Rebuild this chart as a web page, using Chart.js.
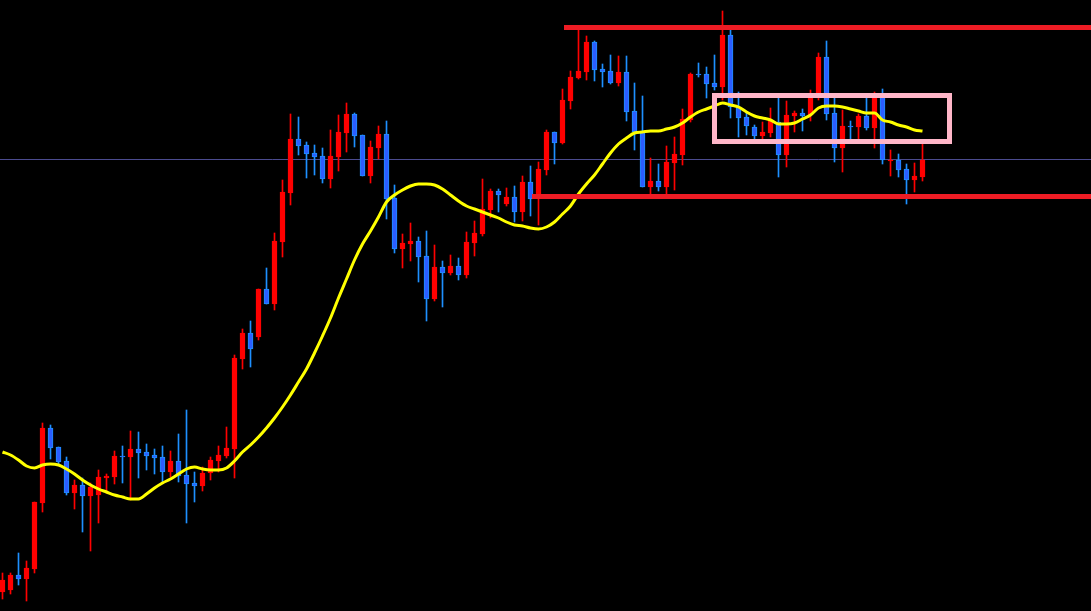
<!DOCTYPE html>
<html>
<head>
<meta charset="utf-8">
<script src="https://cdn.jsdelivr.net/npm/chart.js@4.4.1/dist/chart.umd.min.js"></script>
<style>
html,body{margin:0;padding:0;background:#000;overflow:hidden;}
canvas{display:block;}
</style>
</head>
<body>
<canvas id="c" width="1091" height="611"></canvas>
<script>
// Candle data (price units), one entry per bar
const opens  = [19,21,36,32,42,108,183,164,150,118,126,115,116,133,134,155,154,162,159,156,154,139,150,136,128,125,138,150,155,162,
252,278,274,322,307,369,418,472,466,458,455,432,454,478,497,476,435,463,477,413,362,367,370,355,312,344,338,345,336,368,
377,401,420,407,414,399,429,414,441,479,468,510,533,539,569,542,540,528,539,500,479,424,430,424,448,456,491,537,537,528,
524,576,504,494,484,475,478,489,456,495,498,496,513,554,498,463,485,484,495,483,514,450,451,442,431,434];
const highs  = [38,38,58,50,109,188,186,164,154,131,133,128,141,137,160,165,180,179,167,162,165,160,177,201,139,144,154,165,184,256,
282,290,322,343,378,431,497,494,469,466,463,481,496,508,498,476,470,485,490,426,377,388,374,380,366,350,356,353,379,390,
432,422,422,423,425,435,445,449,481,479,522,540,581,575,570,547,556,555,555,528,515,453,447,465,474,502,538,548,544,556,
600,581,519,499,486,489,503,513,510,500,502,521,558,570,513,501,490,497,514,519,522,461,457,447,448,467];
const lows   = [12,17,26,10,38,99,152,146,116,102,79,60,88,118,127,128,111,133,141,137,129,134,129,88,109,120,131,139,153,133,
242,244,271,307,301,354,406,456,433,436,428,423,440,459,464,435,428,452,392,358,343,350,329,290,310,304,336,331,333,355,
375,393,399,405,389,390,395,386,436,447,467,502,532,531,530,524,527,525,490,461,424,417,420,414,421,446,489,534,513,521,
511,493,474,476,472,472,474,434,444,479,480,490,511,491,449,439,472,472,481,463,447,435,434,407,419,430];
const closes = [31,36,32,43,109,183,163,149,118,126,115,124,134,135,155,154,162,158,155,153,139,150,135,127,125,138,151,156,163,253,
278,262,322,307,370,419,472,465,457,454,432,455,479,497,475,435,464,477,412,362,368,370,354,312,344,338,345,336,369,378,
402,420,416,414,399,429,412,442,479,468,511,534,540,569,541,539,528,539,499,479,424,430,424,449,457,492,537,536,527,524,
576,504,493,485,475,479,490,456,496,498,495,513,554,497,463,485,484,495,483,514,451,451,441,431,435,451];
// Moving average
const maValues = [159,156,151,145,143,146,147,146,142,137,131,126,122,119,116,114,112,112,117,123,128,132,137,142,144,142,141,141,143,150,
159,166,174,183,193,204,216,229,242,258,275,293,313,332,351,367,380,394,409,416,421,425,427,427,426,422,416,410,405,402,
399,396,393,389,386,385,383,382,384,389,397,405,417,427,436,447,458,467,473,478,479,480,480,482,484,488,494,499,502,505,
508,506,504,499,495,493,491,487,487,488,492,496,503,505,505,504,502,500,498,498,491,489,486,484,481,480];
// Levels
const currentPrice = 451.5;
const resistance = 583.5;
const resistanceStart = 70.1875;
const support = 414.5;
const supportStart = 66.1875;
const boxTop = 515.5, boxBottom = 469.5, boxStart = 89.0, boxEnd = 118.375;

const X_MIN = -0.3125, X_MAX = 136.0625;
const UP = '#ff0000', DOWN_FILL = '#2c5dff', DOWN_LINE = '#1e90ff';

const n = opens.length;
const bodies = [], wicks = [], bodyFill = [], bodyBorder = [], wickColor = [], ma = [];
for (let i = 0; i < n; i++) {
  const up = closes[i] >= opens[i];
  let o = opens[i], c = closes[i];
  if (o === c) c = o + 1;
  bodies.push({x: i, y: [o, c]});
  wicks.push({x: i, y: [lows[i], highs[i]]});
  bodyFill.push(up ? UP : DOWN_FILL);
  bodyBorder.push(up ? UP : DOWN_LINE);
  wickColor.push(up ? UP : DOWN_LINE);
  ma.push({x: i, y: maValues[i]});
}

new Chart(document.getElementById('c'), {
  type: 'bar',
  data: {
    datasets: [
      { type: 'line', order: 0, data: [
          {x: boxStart, y: boxTop}, {x: boxEnd, y: boxTop}, {x: boxEnd, y: boxBottom},
          {x: boxStart, y: boxBottom}, {x: boxStart, y: boxTop}],
        borderColor: '#ffb6c8', borderWidth: 5, pointRadius: 0, fill: false, tension: 0,
        borderJoinStyle: 'miter', borderCapStyle: 'square' },
      { type: 'line', order: 1, data: [{x: resistanceStart, y: resistance}, {x: X_MAX + 1, y: resistance}],
        borderColor: '#ee1c24', borderWidth: 5, pointRadius: 0, fill: false },
      { type: 'line', order: 1, data: [{x: supportStart, y: support}, {x: X_MAX + 1, y: support}],
        borderColor: '#ee1c24', borderWidth: 5, pointRadius: 0, fill: false },
      { type: 'line', order: 2, data: ma, borderColor: '#ffff00', borderWidth: 3,
        pointRadius: 0, fill: false, cubicInterpolationMode: 'monotone' },
      { type: 'bar', order: 3, data: bodies, backgroundColor: bodyFill, borderColor: bodyBorder,
        borderWidth: 1, borderSkipped: false, barThickness: 5, grouped: false },
      { type: 'bar', order: 4, data: wicks, backgroundColor: wickColor, borderWidth: 0,
        barThickness: 1, grouped: false },
      { type: 'line', order: 5, data: [{x: X_MIN - 1, y: currentPrice}, {x: X_MAX + 1, y: currentPrice}],
        borderColor: '#4b4b8f', borderWidth: 1, pointRadius: 0, fill: false }
    ]
  },
  options: {
    responsive: false,
    animation: false,
    devicePixelRatio: 1,
    layout: { padding: 0 },
    plugins: { legend: { display: false }, tooltip: { enabled: false } },
    scales: {
      x: { type: 'linear', min: X_MIN, max: X_MAX, display: false, offset: false },
      y: { type: 'linear', min: 0, max: 611, display: false }
    }
  }
});
</script>
</body>
</html>
